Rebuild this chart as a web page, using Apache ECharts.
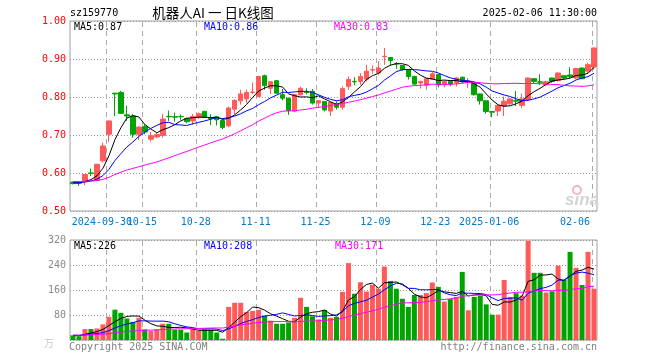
<!DOCTYPE html>
<html><head><meta charset="utf-8">
<script src="https://cdn.jsdelivr.net/npm/echarts@6/dist/echarts.min.js"></script>
<style>html,body{margin:0;padding:0;background:#fff}#c{width:660px;height:360px}</style>
</head><body><div id="c"></div>
<script>
const dates = ['2024-09-20','2024-09-23','2024-09-24','2024-09-25','2024-09-26','2024-09-27','2024-09-30',
'2024-10-08','2024-10-09','2024-10-10','2024-10-11','2024-10-14','2024-10-15','2024-10-16','2024-10-17','2024-10-18',
'2024-10-21','2024-10-22','2024-10-23','2024-10-24','2024-10-25','2024-10-28','2024-10-29','2024-10-30','2024-10-31','2024-11-01',
'2024-11-04','2024-11-05','2024-11-06','2024-11-07','2024-11-08','2024-11-11','2024-11-12','2024-11-13','2024-11-14','2024-11-15',
'2024-11-18','2024-11-19','2024-11-20','2024-11-21','2024-11-22','2024-11-25','2024-11-26','2024-11-27','2024-11-28','2024-11-29',
'2024-12-02','2024-12-03','2024-12-04','2024-12-05','2024-12-06','2024-12-09','2024-12-10','2024-12-11','2024-12-12','2024-12-13',
'2024-12-16','2024-12-17','2024-12-18','2024-12-19','2024-12-20','2024-12-23','2024-12-24','2024-12-25','2024-12-26','2024-12-27',
'2024-12-30','2024-12-31','2025-01-02','2025-01-03','2025-01-06','2025-01-07','2025-01-08','2025-01-09','2025-01-10',
'2025-01-13','2025-01-14','2025-01-15','2025-01-16','2025-01-17','2025-01-20','2025-01-21','2025-01-22','2025-01-23','2025-01-24',
'2025-01-27','2025-02-05','2025-02-06'];
const opens = [0.576,0.574,0.576,0.600,0.581,0.632,0.702,0.810,0.812,0.753,0.750,0.702,0.722,0.689,0.695,0.699,0.749,0.748,0.749,0.743,
0.737,0.747,0.762,0.744,0.748,0.738,0.724,0.768,0.790,0.795,0.812,0.801,0.856,0.823,0.843,0.806,0.797,0.763,0.806,0.813,
0.815,0.784,0.788,0.763,0.783,0.773,0.828,0.841,0.841,0.847,0.871,0.863,0.906,0.904,0.888,0.883,0.872,0.854,0.837,0.831,
0.847,0.859,0.832,0.841,0.837,0.852,0.838,0.837,0.808,0.790,0.762,0.763,0.776,0.782,0.791,0.778,0.793,0.848,0.840,0.832,
0.850,0.843,0.856,0.858,0.850,0.876,0.868,0.879];
const closes = [0.572,0.573,0.596,0.599,0.623,0.671,0.737,0.808,0.757,0.750,0.702,0.721,0.708,0.698,0.701,0.742,0.748,0.747,0.748,0.735,
0.749,0.756,0.746,0.743,0.740,0.720,0.771,0.791,0.808,0.812,0.813,0.854,0.830,0.840,0.810,0.797,0.764,0.806,0.823,0.812,
0.784,0.790,0.766,0.786,0.773,0.822,0.846,0.840,0.854,0.868,0.872,0.876,0.907,0.896,0.887,0.872,0.854,0.834,0.841,0.848,
0.861,0.832,0.841,0.834,0.850,0.841,0.842,0.806,0.790,0.762,0.760,0.778,0.789,0.795,0.789,0.795,0.850,0.841,0.839,0.840,
0.841,0.863,0.850,0.854,0.875,0.848,0.885,0.929];
const lows = [0.570,0.566,0.568,0.592,0.580,0.627,0.682,0.750,0.755,0.737,0.693,0.687,0.702,0.683,0.692,0.693,0.737,0.735,0.740,0.731,
0.727,0.742,0.745,0.726,0.725,0.715,0.720,0.755,0.780,0.784,0.808,0.800,0.819,0.808,0.808,0.791,0.753,0.760,0.804,0.807,
0.780,0.771,0.762,0.750,0.767,0.767,0.819,0.831,0.832,0.841,0.861,0.859,0.885,0.883,0.874,0.869,0.846,0.832,0.822,0.819,
0.845,0.825,0.825,0.828,0.828,0.837,0.824,0.804,0.780,0.756,0.747,0.750,0.750,0.780,0.776,0.771,0.789,0.834,0.831,0.832,
0.837,0.840,0.847,0.850,0.847,0.847,0.861,0.872];
const highs = [0.577,0.578,0.597,0.612,0.624,0.680,0.738,0.811,0.816,0.777,0.755,0.722,0.728,0.708,0.705,0.755,0.764,0.759,0.754,0.746,
0.755,0.759,0.764,0.755,0.749,0.740,0.775,0.794,0.819,0.819,0.838,0.856,0.859,0.842,0.845,0.821,0.798,0.808,0.827,0.823,
0.821,0.792,0.789,0.788,0.789,0.828,0.854,0.852,0.863,0.885,0.883,0.894,0.929,0.905,0.892,0.884,0.873,0.856,0.843,0.850,
0.866,0.860,0.843,0.842,0.852,0.854,0.850,0.840,0.809,0.791,0.763,0.780,0.801,0.797,0.816,0.809,0.851,0.849,0.860,0.843,
0.851,0.865,0.857,0.878,0.877,0.878,0.890,0.930];
const volumes = [15,12,35,35,37,50,74,97,87,69,58,71,34,29,34,52,52,33,33,24,
35,29,34,33,24,4,106,119,119,90,93,97,78,62,52,52,56,71,135,106,
76,66,96,71,74,154,246,148,185,155,177,164,235,189,164,132,106,144,144,150,
184,170,123,131,138,218,95,138,142,114,81,81,192,138,150,142,317,215,215,152,
156,238,192,282,231,176,282,164];
// estimated closes / volumes of the days before the window (only used to seed the moving averages)
const priorCloses = [0.579,0.577,0.580,0.578,0.576,0.579,0.581,0.578,0.577,0.580,0.582,0.579,0.576,0.578,0.580,
0.579,0.577,0.575,0.578,0.580,0.581,0.579,0.576,0.577,0.575,0.574,0.576,0.575,0.573];
const priorVolumes = [16,18,15,17,14,16,19,15,17,16,14,18,15,16,17,15,16,14,17,15,16,18,15,14,16,15,13,14,15];
const tickDates = ['2024-09-30','2024-10-15','2024-10-28','2024-11-11','2024-11-25','2024-12-09','2024-12-23','2025-01-06','2025-02-06'];
const tickLabels = ['2024-09-30','10-15','10-28','11-11','11-25','12-09','12-23','2025-01-06','02-06'];
const priceTicks = [0.5,0.6,0.7,0.8,0.9,1.0];
const volTicks = [0,80,160,240,320];
const legendPrice = ['MA5:0.87','MA10:0.86','MA30:0.83'];
const legendVol = ['MA5:226','MA10:208','MA30:171'];

const RED = '#ff5a5a', GREEN = '#00a400';
const MONO = '"DejaVu Sans Mono", "Liberation Mono", monospace';

function ma(prior, data, n) {
  const all = prior.concat(data), off = prior.length, out = [];
  for (let i = 0; i < data.length; i++) {
    let s = 0;
    for (let k = off + i - n + 1; k <= off + i; k++) s += all[k];
    out.push(+(s / n).toFixed(4));
  }
  return out;
}
const tickIdx = {};
const tickPos = [];
tickDates.forEach((d, j) => { const i = dates.indexOf(d); tickIdx[i] = j; tickPos.push(i); });
const isTick = (i) => tickIdx[i] !== undefined;

const kData = dates.map((d, i) => [opens[i], closes[i], lows[i], highs[i]]);
const vData = volumes.map((v, i) => ({ value: v, itemStyle: { color: closes[i] >= opens[i] ? RED : GREEN } }));

const chart = echarts.init(document.getElementById('c'), null, { renderer: 'canvas' });
const gridBorder = { show: true, borderColor: '#a0a0a0', borderWidth: 1, backgroundColor: 'transparent' };
const hSplit = () => ({ show: true, lineStyle: { color: '#999999', type: [1, 2], width: 1 } });
const lineS = (x, y, data, color) => ({ type: 'line', xAxisIndex: x, yAxisIndex: y, data, symbol: 'none', silent: true,
  lineStyle: { color, width: 1 }, itemStyle: { color }, z: 5 });

const txt = (x, y, text, fill, font, align, vAlign) => ({ type: 'text', x, y, silent: true, z: 10,
  style: { text, fill, font, align: align || 'left', verticalAlign: vAlign || 'middle' } });

chart.setOption({
  animation: false,
  backgroundColor: '#ffffff',
  grid: [
    Object.assign({ left: 70, top: 21, width: 527, height: 190 }, gridBorder),
    Object.assign({ left: 70, top: 240, width: 527, height: 100 }, gridBorder)
  ],
  xAxis: [
    { type: 'category', gridIndex: 0, data: dates, boundaryGap: true,
      axisLine: { show: false }, axisTick: { show: false },
      axisLabel: { interval: (i) => i === 0 || isTick(i), hideOverlap: false,
        margin: 6, color: '#0078d0', fontFamily: MONO, fontSize: 10,
        formatter: (v, i) => {
          const j = tickIdx[i];
          if (j === undefined) return '';
          if (j === tickLabels.length - 1) return '{r|' + tickLabels[j] + '}';
          if (j === 0) return '{f|' + tickLabels[j] + '}';
          return '{n|' + tickLabels[j] + '}';
        },
        rich: { n: { padding: [0, 6, 0, 0], fontFamily: MONO, fontSize: 10, color: '#0078d0' },
                f: { padding: [0, 14, 0, 0], fontFamily: MONO, fontSize: 10, color: '#0078d0' },
                r: { padding: [0, 38, 0, 0], fontFamily: MONO, fontSize: 10, color: '#0078d0' } } },
      splitLine: { show: false } },
    { type: 'category', gridIndex: 1, data: dates, boundaryGap: true,
      axisLine: { show: false }, axisTick: { show: false }, axisLabel: { show: false },
      splitLine: { show: false } }
  ],
  yAxis: [
    { type: 'value', gridIndex: 0, min: priceTicks[0], max: priceTicks[priceTicks.length - 1], interval: 0.1,
      axisLine: { show: false }, axisTick: { show: false },
      axisLabel: { color: '#ff0000', fontFamily: MONO, fontSize: 10, margin: 4, formatter: (v) => v.toFixed(2) },
      splitLine: hSplit() },
    { type: 'value', gridIndex: 1, min: volTicks[0], max: volTicks[volTicks.length - 1], interval: 80,
      axisLine: { show: false }, axisTick: { show: false },
      axisLabel: { color: '#888888', fontFamily: MONO, fontSize: 10, margin: 4, formatter: (v) => v === 0 ? '' : String(v) },
      splitLine: hSplit() }
  ],
  series: [
    { type: 'candlestick', xAxisIndex: 0, yAxisIndex: 0, data: kData, barWidth: 5, silent: true,
      itemStyle: { color: RED, color0: GREEN, borderColor: RED, borderColor0: GREEN, borderWidth: 1 } },
    lineS(0, 0, ma(priorCloses, closes, 5), '#000000'),
    lineS(0, 0, ma(priorCloses, closes, 10), '#0000ff'),
    lineS(0, 0, ma(priorCloses, closes, 30), '#ff00ff'),
    { type: 'bar', xAxisIndex: 1, yAxisIndex: 1, data: vData, barWidth: 5, silent: true },
    lineS(1, 1, ma(priorVolumes, volumes, 5), '#000000'),
    lineS(1, 1, ma(priorVolumes, volumes, 10), '#0000ff'),
    lineS(1, 1, ma(priorVolumes, volumes, 30), '#ff00ff')
  ]
});

// vertical dashed separators at the left edge of each labelled day, positioned through the chart's own scales
function sepRects(xAxisIndex, yAxisIndex, yLo, yHi) {
  const out = [];
  const top = chart.convertToPixel({ yAxisIndex }, yHi);
  const bot = chart.convertToPixel({ yAxisIndex }, yLo);
  tickPos.forEach(p => {
    const c = chart.convertToPixel({ xAxisIndex }, p);
    const cPrev = chart.convertToPixel({ xAxisIndex }, p - 1);
    const xb = c - (c - cPrev) / 2;
    const col = Math.round(xb + 0.5);
    for (let y = Math.round(top) + 1; y < bot - 1; y += 9) {
      out.push({ type: 'rect', silent: true, z: 1,
        shape: { x: col, y: y, width: 1, height: Math.min(5, bot - 1 - y) },
        style: { fill: '#aaaaaa', stroke: null } });
    }
  });
  return out;
}

const texts = [
  txt(70, 13, 'sz159770', '#000', '10px ' + MONO),
  txt(213, 13, '机器人AI 一 日K线图', '#000', '13.5px "Noto Sans CJK SC"', 'center'),
  txt(597, 13, '2025-02-06 11:30:00', '#000', '10px ' + MONO, 'right'),
  txt(74, 27, legendPrice[0], '#000', '10px ' + MONO),
  txt(204, 27, legendPrice[1], '#0000ff', '10px ' + MONO),
  txt(334, 27, legendPrice[2], '#ff00ff', '10px ' + MONO),
  txt(74, 246, legendVol[0], '#000', '10px ' + MONO),
  txt(204, 246, legendVol[1], '#0000ff', '10px ' + MONO),
  txt(335, 246, legendVol[2], '#ff00ff', '10px ' + MONO),
  txt(69, 347, 'Copyright 2025 SINA.COM', '#808080', '10px ' + MONO),
  txt(597, 347, 'http://finance.sina.com.cn', '#808080', '10px ' + MONO, 'right'),
  txt(49, 343, '万', '#c8c8c8', '10px "Noto Sans CJK SC"', 'center'),
  { type: 'circle', x: 577, y: 190, silent: true, z: 1, shape: { r: 4 }, style: { fill: 'none', stroke: '#f2b4b4', lineWidth: 2 } },
  txt(582, 200, 'sina', '#d4d4d4', 'italic bold 17px "Liberation Sans"', 'center')
];

chart.setOption({
  graphic: { elements: sepRects(0, 0, priceTicks[0], priceTicks[priceTicks.length - 1])
    .concat(sepRects(1, 1, volTicks[0], volTicks[volTicks.length - 1]))
    .concat(texts) }
});
</script></body></html>
